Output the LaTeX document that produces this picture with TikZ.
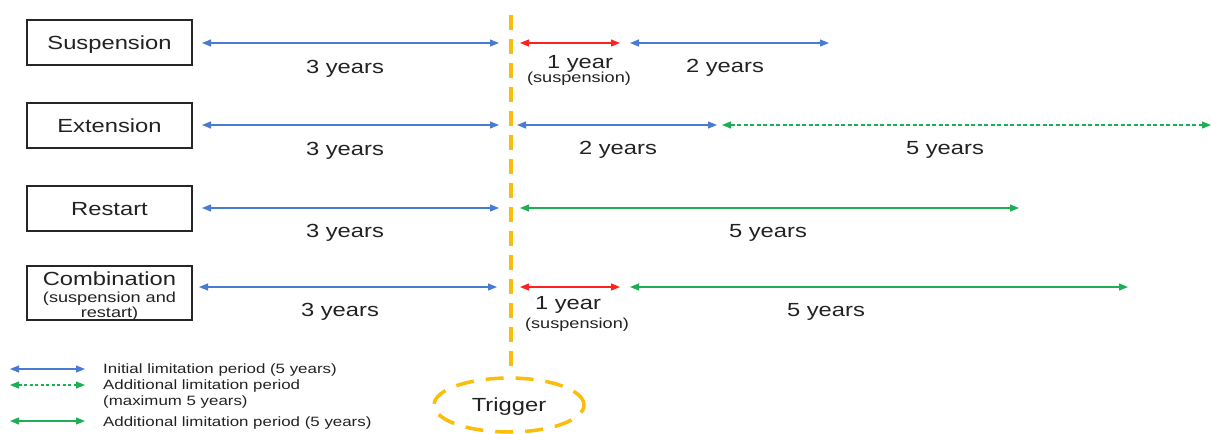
\documentclass[tikz,border=0pt]{standalone}
\usepackage{fontspec}
\setmainfont{Liberation Sans}[FakeStretch=1.25]
\usetikzlibrary{arrows.meta,shapes.geometric}
\definecolor{cblue}{HTML}{4A7BD3}
\definecolor{cred}{HTML}{FF2020}
\definecolor{cgreen}{HTML}{1EAE55}
\definecolor{corange}{HTML}{FBBC0A}
\definecolor{ctext}{HTML}{222222}
\tikzset{
  x=1pt,y=-1pt,
  casebox/.style={draw=black!85,line width=1.2pt,minimum width=165pt,minimum height=45pt,inner sep=0pt,font=\fontsize{19}{21}\selectfont,text=ctext,align=center,text height=13.6pt,text depth=0pt},
  period/.style={line width=1.2pt,{Triangle[length=9pt,width=7pt]}-{Triangle[length=9pt,width=7pt]}},
  pblue/.style={period,draw=cblue,fill=cblue},
  pred/.style={period,draw=cred,fill=cred},
  pgreen/.style={period,draw=cgreen,fill=cgreen},
  pgdash/.style={pgreen,dash pattern=on 4pt off 2.5pt},
  lab/.style={font=\fontsize{19}{21}\selectfont,text=ctext,inner sep=0pt,text height=13.6pt,text depth=0pt},
  slab/.style={font=\fontsize{14.5}{15}\selectfont,text=ctext,inner sep=0pt,text height=10.4pt,text depth=0pt},
  leg/.style={font=\fontsize{13.5}{15}\selectfont,text=ctext,inner sep=0pt,anchor=west,text height=9.7pt,text depth=0pt},
  trig/.style={draw=corange,line width=4.5pt,dash pattern=on 15pt off 9pt},
}
\begin{document}
\begin{tikzpicture}
\useasboundingbox (0,0) rectangle (1211,434);
% boxes
\node[casebox] (bs) at (109.5,42.5) {Suspension};
\node[casebox] (be) at (109.5,125.5) {Extension};
\node[casebox] (br) at (109.5,208.5) {Restart};
\node[casebox,minimum height=54pt,text height=0pt] (bc) at (109.5,293) {};
\node[lab] (bct) at (109.5,279) {Combination};
\node[slab] (bcs) at (109.5,297) {(suspension and};
\node[slab] (bcr) at (109.5,312) {restart)};
% trigger
\coordinate (tt) at (511,15);
\coordinate (tb) at (511,374);
\draw[trig] (tt) -- (tb);
\node[draw=corange,line width=3.5pt,dash pattern=on 18pt off 12pt,ellipse,minimum width=150pt,minimum height=54pt,font=\fontsize{19}{21}\selectfont,text=ctext,text height=13.6pt,text depth=0pt] (trg) at (509,405) {Trigger};
% row 1
\coordinate (a1) at (202,43); \coordinate (a2) at (499,43);
\coordinate (a3) at (520,43); \coordinate (a4) at (620,43);
\coordinate (a5) at (630,43); \coordinate (a6) at (829,43);
\draw[pblue] (a1) -- (a2);
\draw[pred] (a3) -- (a4);
\draw[pblue] (a5) -- (a6);
\node[lab] (l1a) at (345,66.5) {3 years};
\node[lab] (l1b) at (580,61.5) {1 year};
\node[slab] (l1c) at (579,77) {(suspension)};
\node[lab] (l1d) at (725,65.5) {2 years};
% row 2
\coordinate (b1) at (202,125); \coordinate (b2) at (499,125);
\coordinate (b3) at (517,125); \coordinate (b4) at (717,125);
\coordinate (b5) at (722,125); \coordinate (b6) at (1211,125);
\draw[pblue] (b1) -- (b2);
\draw[pblue] (b3) -- (b4);
\draw[pgdash] (b5) -- (b6);
\node[lab] (l2a) at (345,149) {3 years};
\node[lab] (l2b) at (618,148) {2 years};
\node[lab] (l2c) at (945,148) {5 years};
% row 3
\coordinate (c1) at (202,208); \coordinate (c2) at (499,208);
\coordinate (c3) at (520,208); \coordinate (c4) at (1019,208);
\draw[pblue] (c1) -- (c2);
\draw[pgreen] (c3) -- (c4);
\node[lab] (l3a) at (345,231) {3 years};
\node[lab] (l3b) at (768,231) {5 years};
% row 4
\coordinate (d1) at (199,287); \coordinate (d2) at (497,287);
\coordinate (d3) at (520,287); \coordinate (d4) at (620,287);
\coordinate (d5) at (630,287); \coordinate (d6) at (1128,287);
\draw[pblue] (d1) -- (d2);
\draw[pred] (d3) -- (d4);
\draw[pgreen] (d5) -- (d6);
\node[lab] (l4a) at (340,310) {3 years};
\node[lab] (l4b) at (568,303) {1 year};
\node[slab] (l4c) at (577,323) {(suspension)};
\node[lab] (l4d) at (826,310) {5 years};
% legend
\coordinate (e1) at (10,369); \coordinate (e2) at (85,369);
\coordinate (f1) at (10,385); \coordinate (f2) at (85,385);
\coordinate (g1) at (10,421); \coordinate (g2) at (85,421);
\draw[pblue] (e1) -- (e2);
\draw[pgdash,dash pattern=on 3pt off 2.5pt] (f1) -- (f2);
\draw[pgreen] (g1) -- (g2);
\node[leg] (t1) at (103,369) {Initial limitation period (5 years)};
\node[leg] (t2) at (103,385) {Additional limitation period};
\node[leg] (t3) at (103,401) {(maximum 5 years)};
\node[leg] (t4) at (103,422) {Additional limitation period (5 years)};
\end{tikzpicture}
\end{document}
